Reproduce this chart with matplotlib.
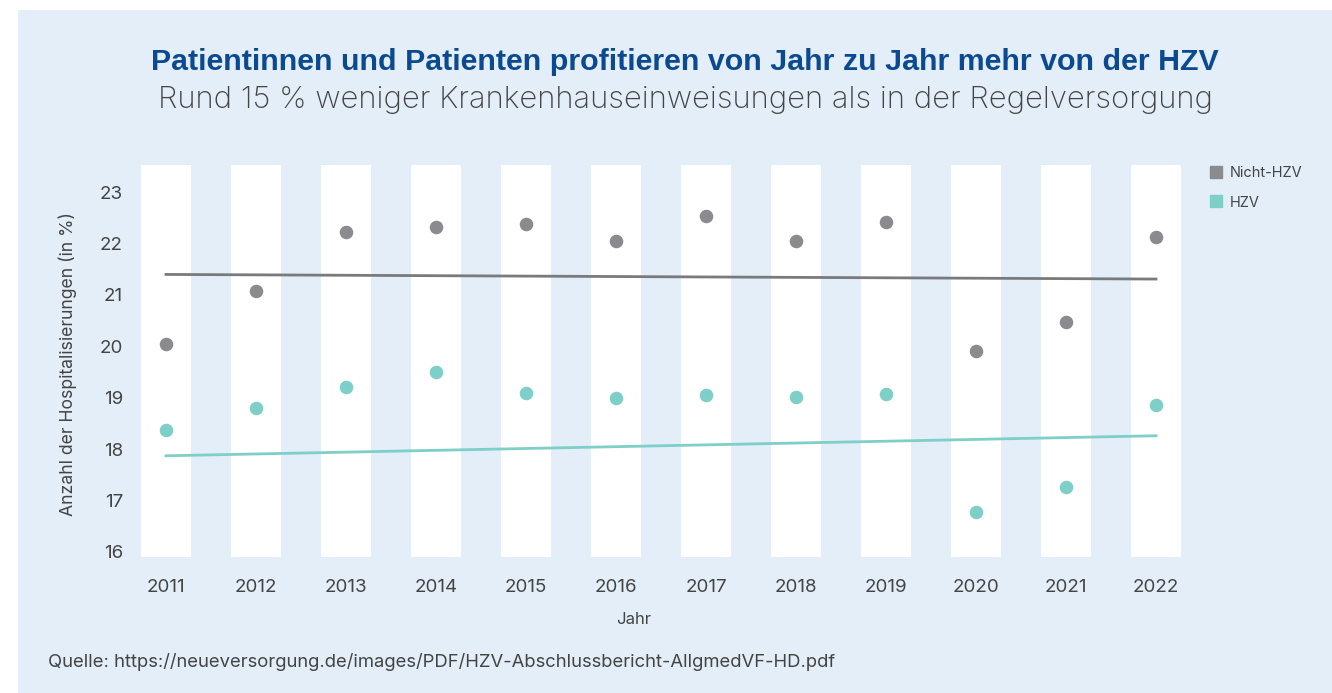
import matplotlib.pyplot as plt
from matplotlib.lines import Line2D
from matplotlib.patches import Rectangle

# Daten
jahre = [2011, 2012, 2013, 2014, 2015, 2016, 2017, 2018, 2019, 2020, 2021, 2022]
nicht_hzv = [20.05, 21.08, 22.23, 22.32, 22.38, 22.05, 22.54, 22.05, 22.42, 19.91, 20.47, 22.13]
hzv = [18.37, 18.80, 19.21, 19.50, 19.09, 19.00, 19.05, 19.02, 19.07, 16.78, 17.26, 18.86]
trend_jahre = [2011, 2022]
trend_nicht_hzv = [21.40, 21.31]
trend_hzv = [17.87, 18.26]
yticks = [16, 17, 18, 19, 20, 21, 22, 23]

bg = '#e3eef8'
grau = '#8a8a8f'
tuerkis = '#7dcfc8'
textfarbe = '#444444'

plt.rcParams['font.family'] = ['Inter', 'DejaVu Sans']

fig = plt.figure(figsize=(13.32, 6.93), dpi=100)
fig.patch.set_facecolor('white')
fig.add_artist(Rectangle((18 / 1332, 0), 1, 1 - 10 / 693, transform=fig.transFigure,
                         facecolor=bg, edgecolor='none', zorder=-10))

ax = fig.add_axes([130 / 1332, 136 / 693, 1071 / 1332, 392 / 693])
ax.set_facecolor('none')
ax.set_xlim(2010.6, 2022.5)
ax.set_ylim(15.9, 23.53)

# weiße Streifen je Jahr
for j in jahre:
    ax.axvspan(j - 0.278, j + 0.278, color='white', zorder=0, lw=0)

ax.plot(trend_jahre, trend_nicht_hzv, color='#7a7a7e', lw=2, zorder=2)
ax.plot(trend_jahre, trend_hzv, color=tuerkis, lw=2, zorder=2)
ax.scatter(jahre, nicht_hzv, s=95, color=grau, zorder=3, lw=0)
ax.scatter(jahre, hzv, s=95, color=tuerkis, zorder=3, lw=0)

for s in ax.spines.values():
    s.set_visible(False)
ax.set_xticks(jahre)
ax.set_yticks(yticks)
ax.tick_params(axis='both', length=0, labelsize=13.5, labelcolor=textfarbe)
ax.tick_params(axis='y', pad=5)
ax.tick_params(axis='x', pad=15.5)
ax.set_xlabel('Jahr', fontsize=12, color=textfarbe)
ax.xaxis.set_label_coords((634 - 130) / 1071, -55 / 392)
fig.text(68 / 1332, 1 - 364 / 693, 'Anzahl der Hospitalisierungen (in %)', rotation=90,
         ha='center', va='center', fontsize=12.7, color=textfarbe)

# Legende
handles = [Line2D([], [], ls='none', marker='s', ms=9, color=grau),
           Line2D([], [], ls='none', marker='s', ms=9, color=tuerkis)]
fig.legend(handles, ['Nicht-HZV', 'HZV'], loc='upper left',
           bbox_to_anchor=(1203 / 1332, 1 - 159 / 693), frameon=False,
           fontsize=10.5, labelcolor=textfarbe, handlelength=0.8,
           handletextpad=0.55, labelspacing=1.05, borderpad=0)

fig.text(685 / 1332, 1 - 62 / 693,
         'Patientinnen und Patienten profitieren von Jahr zu Jahr mehr von der HZV',
         ha='center', va='center', fontsize=21.9, fontweight='bold', color='#0b4a91',
         family=['Liberation Sans', 'DejaVu Sans'])
fig.text(685 / 1332, 1 - 100 / 693,
         'Rund 15 % weniger Krankenhauseinweisungen als in der Regelversorgung',
         ha='center', va='center', fontsize=22.3, fontweight='light', color=textfarbe)
fig.text(48 / 1332, 1 - 662 / 693,
         'Quelle: https://neueversorgung.de/images/PDF/HZV-Abschlussbericht-AllgmedVF-HD.pdf',
         ha='left', va='center', fontsize=13.3, color=textfarbe)

fig.savefig('out.png', dpi=100, facecolor=fig.get_facecolor())
